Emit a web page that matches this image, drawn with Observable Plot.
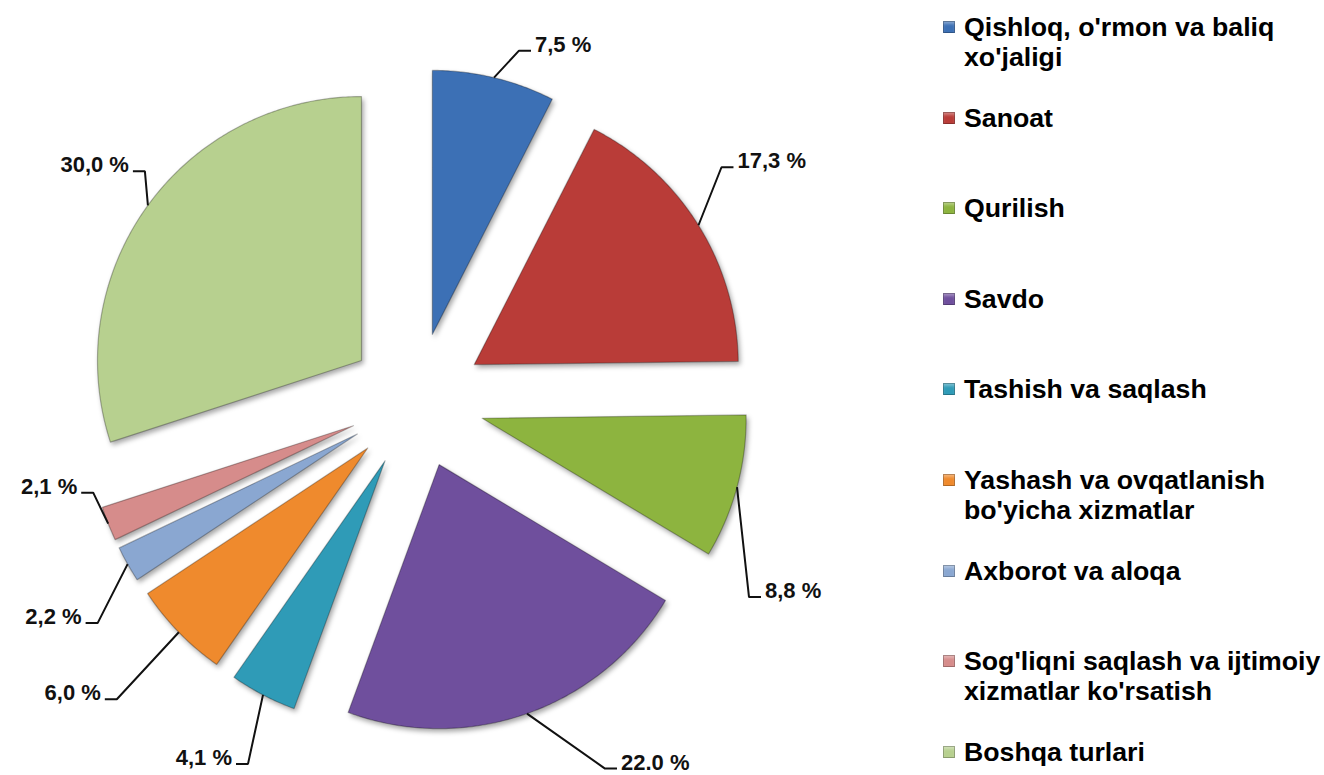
<!DOCTYPE html>
<html>
<head>
<meta charset="utf-8">
<script src="https://cdn.jsdelivr.net/npm/d3@7"></script>
<script src="https://cdn.jsdelivr.net/npm/@observablehq/plot@0.6"></script>
<style>
  html, body { margin: 0; padding: 0; background: #fff; }
  #wrap { position: relative; width: 1324px; height: 775px; overflow: hidden; font-family: "Liberation Sans", Arial, sans-serif; }
  #chart { position: absolute; left: 0; top: 0; }
  .slice path { filter: drop-shadow(2px 3px 2.5px rgba(0,0,0,0.35)); }
  #legend { position: absolute; left: 943px; top: 0; }
  .item { position: absolute; left: 0; white-space: nowrap; font-weight: bold; font-size: 26.7px; line-height: 30px; color: #000; }
  .sw { position: absolute; left: 0; top: 9px; width: 12px; height: 12px; box-shadow: inset 0 0 0 1px rgba(0,0,0,0.25), inset 0 3px 3px rgba(255,255,255,0.35); }
  .tx { position: absolute; left: 21px; top: 0; }
</style>
</head>
<body>
<div id="wrap"><div id="chart"></div><div id="legend"></div></div>
<script>
// ---- data ----
const categories = [
  "Qishloq, o'rmon va baliq\nxo'jaligi",
  "Sanoat",
  "Qurilish",
  "Savdo",
  "Tashish va saqlash",
  "Yashash va ovqatlanish\nbo'yicha xizmatlar",
  "Axborot va aloqa",
  "Sog'liqni saqlash va ijtimoiy\nxizmatlar ko'rsatish",
  "Boshqa turlari"
];
const values = [7.5, 17.3, 8.8, 22.0, 4.1, 6.0, 2.2, 2.1, 30.0];
const valueLabels = ["7,5 %", "17,3 %", "8,8 %", "22.0 %", "4,1 %", "6,0 %", "2,2 %", "2,1 %", "30,0 %"];
const colors = ["#3C70B5", "#B93C38", "#8DB43F", "#6F4F9D", "#2F9BB7", "#EF8A2D", "#8AA7D1", "#D68C8B", "#B7D08F"];

// ---- layout ----
const W = 1324, H = 775;
const CX = 416, CY = 400;     // pie centre
const R = 264;                // slice radius
const EXPLODE = 68;           // explosion distance of every slice
// label leader elbow offsets (manual placement, as in the original)
const labelNudge = [[25,-27],[23,-58],[12,110],[78,55],[-15,69],[-62,67],[-30,59],[-15,-31],[-3,-34]];

const arcs = d3.pie().sort(null).value(d => d)(values);

const slicePts = [];
const leaderPts = [];
const labelRows = [];
arcs.forEach((a, i) => {
  const b = (a.startAngle + a.endAngle) / 2;
  const tx = CX + EXPLODE * Math.sin(b), ty = CY - EXPLODE * Math.cos(b);
  const cat = categories[i];
  slicePts.push({cat, x: tx, y: ty});
  const n = Math.max(2, Math.ceil((a.endAngle - a.startAngle) / 0.01));
  for (let k = 0; k <= n; k++) {
    const t = a.startAngle + (a.endAngle - a.startAngle) * k / n;
    slicePts.push({cat, x: tx + R * Math.sin(t), y: ty - R * Math.cos(t)});
  }
  const mx = tx + R * Math.sin(b), my = ty - R * Math.cos(b);
  const ex = mx + labelNudge[i][0], ey = my + labelNudge[i][1];
  const side = Math.sin(b) > 0 ? 1 : -1;
  const hx = ex + side * 12;
  leaderPts.push({i, x: mx, y: my}, {i, x: ex, y: ey}, {i, x: hx, y: ey});
  labelRows.push({text: valueLabels[i], x: hx + side * 4, y: ey - 6, side});
});

const labelFont = {fontSize: 22, fontWeight: "bold", fontFamily: "Liberation Sans, Arial, sans-serif", fill: "#111", letterSpacing: "1.6px"};

const chart = Plot.plot({
  width: W, height: H, margin: 0,
  x: {domain: [0, W], range: [0, W], axis: null},
  y: {domain: [0, H], range: [0, H], axis: null},
  color: {domain: categories, range: colors},
  marks: [
    Plot.line(slicePts, {x: "x", y: "y", z: "cat", fill: "cat", stroke: "rgba(0,0,0,0.28)", strokeWidth: 1.2, curve: "linear-closed", className: "slice"}),
    Plot.line(leaderPts, {x: "x", y: "y", z: "i", stroke: "#111", strokeWidth: 2, strokeLinejoin: "miter", strokeLinecap: "butt"}),
    Plot.text(labelRows.filter(d => d.side > 0), {x: "x", y: "y", text: "text", textAnchor: "start", ...labelFont}),
    Plot.text(labelRows.filter(d => d.side < 0), {x: "x", y: "y", text: "text", textAnchor: "end", ...labelFont})
  ]
});
document.getElementById("chart").appendChild(chart);

// ---- legend ----
const legend = document.getElementById("legend");
const pitch = 90.6;
categories.forEach((c, i) => {
  const item = document.createElement("div");
  item.className = "item";
  item.style.top = (12 + pitch * i) + "px";
  const sw = document.createElement("div");
  sw.className = "sw";
  sw.style.background = colors[i];
  const tx = document.createElement("div");
  tx.className = "tx";
  tx.innerHTML = c.split("\n").map(s => s.replace(/&/g, "&amp;").replace(/</g, "&lt;")).join("<br>");
  item.appendChild(sw);
  item.appendChild(tx);
  legend.appendChild(item);
});
</script>
</body>
</html>
